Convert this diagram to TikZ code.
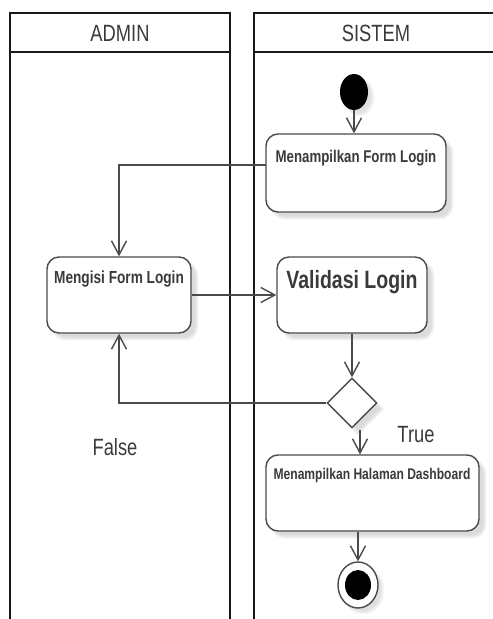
\documentclass[tikz,border=0pt]{standalone}
\usepackage{fontspec}
\setmainfont[FakeStretch=0.78]{Liberation Sans}
\usetikzlibrary{arrows.meta,shapes.geometric,shadows.blur}

\definecolor{ink}{HTML}{3A3A3A}
\definecolor{edge}{HTML}{4A4A4A}

\tikzset{
  lane/.style={draw=black!90, line width=2.6pt},
  lanetitle/.style={text=ink, font=\fontsize{23.5}{26}\selectfont, inner sep=0pt},
  act/.style={draw=edge, line width=1.4pt, rounded corners=12pt, fill=white,
    inner sep=0pt,
    blur shadow={shadow xshift=6pt, shadow yshift=-6pt, shadow opacity=14, shadow blur steps=6}},
  acttext/.style={text=ink, inner sep=0pt},
  guard/.style={text=ink, font=\fontsize{23.5}{26}\selectfont, inner sep=0pt},
  flow/.style={draw=edge, line width=1.4pt, -{Straight Barb[length=14pt,width=15pt,line width=1.4pt]}},
  decision/.style={diamond, draw=edge, line width=1.4pt, fill=white, inner sep=0pt,
    minimum width=50pt, minimum height=50pt,
    blur shadow={shadow xshift=6pt, shadow yshift=-6pt, shadow opacity=14, shadow blur steps=6}},
}

\begin{document}
\begin{tikzpicture}[x=1pt, y=-1pt]
  \useasboundingbox (0,0) rectangle (493,619);

  % swimlanes
  \draw[lane] (10,640) -- (10,13) -- (230,13) -- (230,640);
  \draw[lane] (10,52) -- (230,52);
  \draw[lane] (254,640) -- (254,13) -- (510,13);
  \draw[lane] (254,52) -- (510,52);
  \node[lanetitle] (admintitle) at (120,33) {ADMIN};
  \node[lanetitle] (sistemtitle) at (376,33) {SISTEM};

  % initial node
  \node[ellipse, fill=black, minimum width=28pt, minimum height=36pt, inner sep=0pt,
    blur shadow={shadow xshift=5pt, shadow yshift=-5pt, shadow opacity=12, shadow blur steps=6}]
    (start) at (354,92) {};

  % actions
  \node[act, minimum width=180pt, minimum height=78pt] (form) at (356,173) {};
  \node[acttext, font=\bfseries\fontsize{17}{19}\selectfont] (formtext) at (356,158) {Menampilkan Form Login};

  \node[act, minimum width=144pt, minimum height=76pt] (isi) at (119,295) {};
  \node[acttext, font=\bfseries\fontsize{17.5}{19}\selectfont] (isitext) at (119,279) {Mengisi Form Login};

  \node[act, minimum width=150pt, minimum height=76pt] (valid) at (352,295) {};
  \node[acttext, font=\bfseries\fontsize{25}{27}\selectfont] (validtext) at (352,282) {Validasi Login};

  \node[decision] (dec) at (352,403) {};

  \node[act, minimum width=213pt, minimum height=76pt] (dash) at (372.5,493) {};
  \node[acttext, font=\bfseries\fontsize{15.5}{17}\selectfont] (dashtext) at (372,475) {Menampilkan Halaman Dashboard};

  % final node
  \node[ellipse, draw=edge, line width=1.4pt, fill=white, minimum width=40pt, minimum height=46pt, inner sep=0pt,
    blur shadow={shadow xshift=5pt, shadow yshift=-5pt, shadow opacity=12, shadow blur steps=6}]
    (stop) at (358,585) {};
  \node[ellipse, fill=black, minimum width=26pt, minimum height=30pt, inner sep=0pt] (stopdot) at (stop) {};

  % guards
  \node[guard] (truelbl) at (416,435) {True};
  \node[guard] (falselbl) at (115,447) {False};

  % control flows
  \coordinate (formout) at (266,165);
  \coordinate (truefrom) at (360,430);

  \draw[flow] (start.south) -- (start.south |- form.north);
  \draw[flow] (formout) -| (isi.north);
  \draw[flow] (isi.east) -- (valid.west);
  \draw[flow] (valid.south) -- (dec.north);
  \draw[flow] (dec.west) -| (isi.south);
  \draw[flow] (truefrom) -- (truefrom |- dash.north);
  \draw[flow] (stop.north |- dash.south) -- (stop.north);
\end{tikzpicture}
\end{document}
